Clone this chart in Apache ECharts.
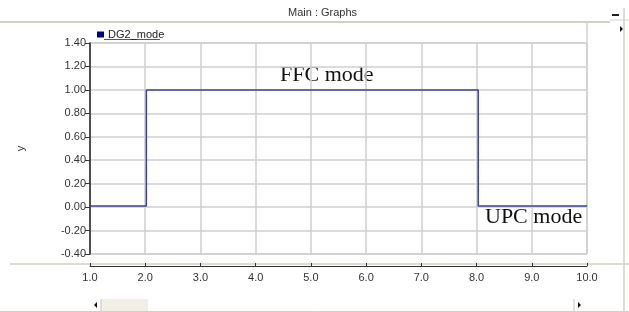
<!DOCTYPE html>
<html style="height: 100%">
<head>
    <meta charset="utf-8">
    <title>Main : Graphs</title>
    <script src="https://cdn.jsdelivr.net/npm/echarts@6/dist/echarts.min.js"></script>
</head>
<body style="margin: 0; height: 100%; background: #fff">
    <div id="main" style="width: 629px; height: 312px"></div>
    <script>
        // Step data for DG2_mode
        const timeValues = [1.0, 2.02, 2.02, 8.03, 8.03, 10.0];
        const modeValues = [0.01, 0.01, 1.0, 1.0, 0.01, 0.01];
        const seriesName = 'DG2_mode';

        const chart = echarts.init(document.getElementById('main'));
        const gridColor = '#cfcfcf';
        const sepColor = '#d4d0c8';
        const serif = 'Liberation Serif, Times New Roman, serif';

        chart.setOption({
            animation: false,
            textStyle: { fontFamily: 'Liberation Sans, Arial, sans-serif' },
            legend: {
                left: 92, top: 24,
                itemWidth: 7, itemHeight: 6, itemGap: 4,
                icon: 'rect',
                textStyle: { fontSize: 11, color: '#222', padding: [0, 0, 0, -1] },
                data: [seriesName]
            },
            grid: {
                left: 90, right: 42, top: 43, bottom: 58,
                show: true, borderColor: '#bdbdbd', borderWidth: 1
            },
            xAxis: {
                type: 'value',
                min: 1, max: 10, interval: 1,
                offset: 12,
                axisLine: { onZero: false, lineStyle: { color: '#333', width: 1 } },
                axisTick: { inside: true, length: 3, lineStyle: { color: '#333' } },
                axisLabel: {
                    margin: 6, fontSize: 11, color: '#333',
                    formatter: v => v.toFixed(1)
                },
                splitLine: { lineStyle: { color: gridColor, width: 1.5 } }
            },
            yAxis: {
                type: 'value',
                min: -0.4, max: 1.4, interval: 0.2,
                name: 'y', nameLocation: 'middle', nameGap: 64, nameRotate: 90,
                nameTextStyle: { fontSize: 11, color: '#333' },
                axisLine: { show: true, lineStyle: { color: '#222', width: 1.5 } },
                axisTick: { show: true, length: 5, lineStyle: { color: '#333' } },
                axisLabel: {
                    margin: 4, fontSize: 11, color: '#333',
                    formatter: v => v.toFixed(2)
                },
                splitLine: { lineStyle: { color: gridColor, width: 1.5 } }
            },
            series: [{
                name: seriesName,
                type: 'line',
                data: timeValues.map((t, i) => [t, modeValues[i]]),
                showSymbol: false,
                itemStyle: { color: '#00007f' },
                lineStyle: { color: '#4040a0', width: 1.5 }
            }],
            graphic: [
                // window header
                { type: 'text', left: 288, top: 7, style: { text: 'Main : Graphs', fontSize: 11, fill: '#333', fontFamily: 'Liberation Sans, Arial' } },
                { type: 'line', shape: { x1: 0, y1: 22, x2: 610, y2: 22 }, style: { stroke: sepColor, lineWidth: 2 } },
                { type: 'line', shape: { x1: 610, y1: 20, x2: 629, y2: 20 }, style: { stroke: sepColor, lineWidth: 1 } },
                { type: 'line', shape: { x1: 624, y1: 8, x2: 624, y2: 312 }, style: { stroke: sepColor, lineWidth: 1.5 } },
                { type: 'rect', shape: { x: 612, y: 14, width: 7, height: 2 }, style: { fill: '#222' } },
                { type: 'polygon', shape: { points: [[620, 26], [620, 32], [623, 29]] }, style: { fill: '#111' } },
                // legend frame
                { type: 'line', shape: { x1: 587, y1: 22, x2: 587, y2: 43 }, style: { stroke: sepColor, lineWidth: 1.5 } },
                { type: 'line', shape: { x1: 104, y1: 39.5, x2: 160, y2: 39.5 }, style: { stroke: '#555', lineWidth: 1 } },
                // separator between plot and x axis
                { type: 'line', shape: { x1: 10, y1: 264, x2: 629, y2: 264 }, style: { stroke: sepColor, lineWidth: 1.5 } },
                // scrollbar
                { type: 'polygon', shape: { points: [[97, 302], [97, 308], [94, 305]] }, style: { fill: '#111' } },
                { type: 'rect', shape: { x: 101, y: 299, width: 47, height: 13 }, style: { fill: '#f1efe6' } },
                { type: 'line', shape: { x1: 101, y1: 299, x2: 101, y2: 312 }, style: { stroke: '#c8c4b8', lineWidth: 1 } },
                { type: 'line', shape: { x1: 574, y1: 299, x2: 574, y2: 312 }, style: { stroke: '#c8c4b8', lineWidth: 1 } },
                { type: 'polygon', shape: { points: [[578, 302], [578, 308], [581, 305]] }, style: { fill: '#111' } },
                { type: 'line', shape: { x1: 0, y1: 311.5, x2: 629, y2: 311.5 }, style: { stroke: sepColor, lineWidth: 1 } },
                // annotations
                { type: 'text', style: { x: 280, y: 75, verticalAlign: 'middle', text: 'FFC mode', fontSize: 22, fill: '#111', fontFamily: serif } },
                { type: 'text', style: { x: 485, y: 217, verticalAlign: 'middle', text: 'UPC mode', fontSize: 22, fill: '#111', fontFamily: serif } }
            ]
        });
    </script>
</body>
</html>
